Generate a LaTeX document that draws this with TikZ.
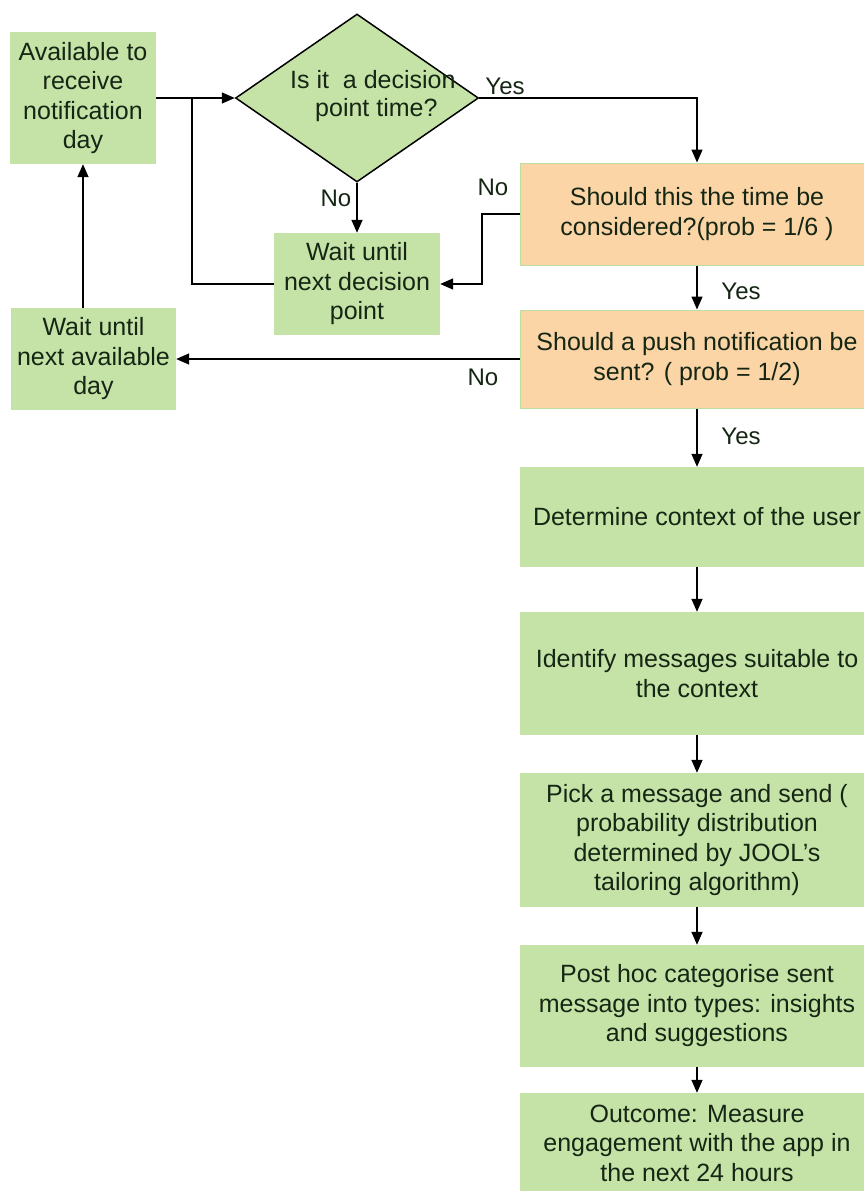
\documentclass[tikz,border=0pt]{standalone}
\usepackage{fontspec}
\setmainfont{Liberation Sans}
\usetikzlibrary{shapes.geometric,arrows.meta,positioning}
\definecolor{boxgreen}{RGB}{198,227,167}
\definecolor{boxorange}{RGB}{251,213,166}
\definecolor{edgegreen}{RGB}{190,222,160}
\definecolor{txt}{RGB}{22,38,20}
\tikzset{
  base/.style={font=\fontsize{25}{29.5}\selectfont, text=txt, align=center, inner sep=0pt},
  gbox/.style={base, fill=boxgreen, minimum width=#1},
  obox/.style={base, fill=boxorange, draw=edgegreen, line width=1pt, minimum width=354pt},
  dshape/.style={diamond, draw=black, line width=1.5pt, fill=boxgreen, minimum width=243pt, minimum height=168pt, inner sep=0pt},
  arr/.style={draw=black, line width=1.5pt, -{Triangle[length=13pt,width=11pt]}},
  ln/.style={draw=black, line width=1.5pt},
  lab/.style={font=\fontsize{24}{28}\selectfont, text=txt, inner sep=0pt}
}
\begin{document}
\begin{tikzpicture}[x=1pt,y=-1pt]
\useasboundingbox (0,0) rectangle (864,1191);
\clip (0,0) rectangle (864,1191);
% nodes
\node[gbox=146pt, minimum height=132pt] (avail) at (83,98) {Available to\\receive\\notification\\day};
\node[dshape] (dec) at (357,98) {};
\node[base, anchor=west, font=\fontsize{25}{27.5}\selectfont] (dectext) at (290,96) {Is it\ \ a decision\\\hspace*{7pt}point time?};
\node[gbox=166pt, minimum height=102pt] (waitdp) at (357,284) {Wait until\\next decision\\point};
\node[obox, minimum height=102pt] (cons) at (697,214) {Should this the time be\\considered?(prob = 1/6 )};
\node[obox, minimum height=98pt] (push) at (697,359) {Should a push notification be\\sent? ( prob = 1/2)};
\node[gbox=165pt, minimum height=102pt] (waitday) at (93.5,359) {Wait until\\next available\\day};
\node[gbox=354pt, minimum height=100pt] (ctx) at (697,517) {Determine context of the user};
\node[gbox=354pt, minimum height=123pt] (ident) at (697,673.5) {Identify messages suitable to\\the context};
\node[gbox=354pt, minimum height=134pt] (pick) at (697,840) {Pick a message and send (\\probability distribution\\determined by JOOL's\\tailoring algorithm)};
\node[gbox=354pt, minimum height=122pt] (post) at (697,1006) {Post hoc categorise sent\\message into types: insights\\and suggestions};
\node[gbox=354pt, minimum height=100pt] (outc) at (697,1143) {Outcome: Measure\\engagement with the app in\\the next 24 hours};
% helper coordinates
\coordinate (jn) at (192,98);
\coordinate (cl) at (482,214);
% connectors
\draw[arr] (avail.east) -- (dec.west);
\draw[ln] (waitdp.west) -| (jn);
\draw[arr] (dec.south) -- (waitdp.north);
\draw[arr] (dec.east) -| (cons.north);
\draw[arr] (cons.west) -- (cl) |- (waitdp.east);
\draw[arr] (cons.south) -- (push.north);
\draw[arr] (push.west) -- (waitday.east);
\draw[arr] (waitday.north -| avail.south) -- (avail.south);
\draw[arr] (push.south) -- (ctx.north);
\draw[arr] (ctx.south) -- (ident.north);
\draw[arr] (ident.south) -- (pick.north);
\draw[arr] (pick.south) -- (post.north);
\draw[arr] (post.south) -- (outc.north);
% labels
\node[lab] (l1) at (505,86) {Yes};
\node[lab] (l2) at (336,198) {No};
\node[lab] (l3) at (493,187) {No};
\node[lab] (l4) at (741,291) {Yes};
\node[lab] (l5) at (483,377) {No};
\node[lab] (l6) at (741,436) {Yes};
\end{tikzpicture}
\end{document}
